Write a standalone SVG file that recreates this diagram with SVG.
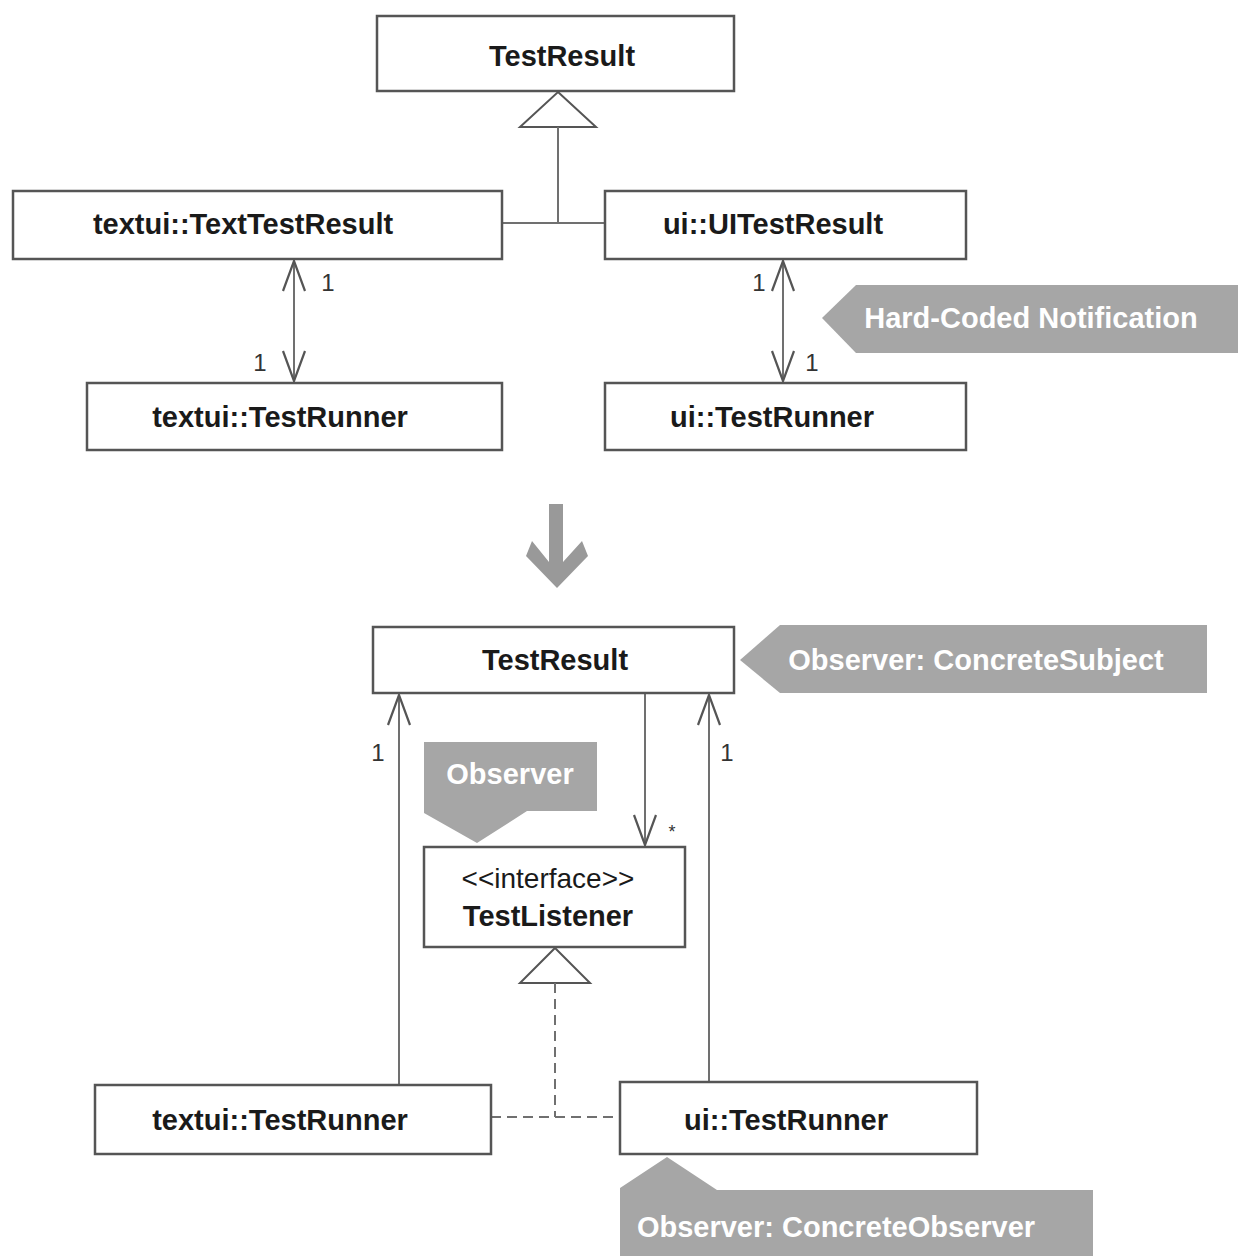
<svg xmlns="http://www.w3.org/2000/svg" width="1238" height="1256" viewBox="0 0 1238 1256">
  <defs>
    <style>
      .box { fill: #ffffff; stroke: #555555; stroke-width: 2.5; }
      .lbl { font-family: "Liberation Sans", Arial, sans-serif; font-size: 29px; font-weight: bold; fill: #1a1a1a; text-anchor: middle; }
      .stereo { font-family: "Liberation Sans", Arial, sans-serif; font-size: 28px; fill: #1a1a1a; text-anchor: middle; }
      .mult { font-family: "Liberation Sans", Arial, sans-serif; font-size: 24px; fill: #333333; text-anchor: middle; }
      .call { fill: #a6a6a6; stroke: none; }
      .calltxt { font-family: "Liberation Sans", Arial, sans-serif; font-size: 29px; font-weight: bold; fill: #ffffff; text-anchor: middle; }
      .line { fill: none; stroke: #707070; stroke-width: 2; }
      .dash { fill: none; stroke: #707070; stroke-width: 2; stroke-dasharray: 10 6; }
      .tri { fill: #ffffff; stroke: #555555; stroke-width: 2; stroke-linejoin: miter; }
    </style>
    <marker id="open" markerUnits="userSpaceOnUse" markerWidth="40" markerHeight="30" viewBox="-32 -15 36 30" refX="0" refY="0" orient="auto-start-reverse">
      <path d="M -30 -11 L 0 0 L -30 11" fill="none" stroke="#555555" stroke-width="2.2"/>
    </marker>
  </defs>

  <rect width="1238" height="1256" fill="#ffffff"/>

  <g id="connectors">
    <polygon class="tri" points="558,92 596,127 520,127"/>
    <line class="line" x1="558" y1="127" x2="558" y2="223"/>
    <line class="line" x1="502" y1="223" x2="605" y2="223"/>
    <line class="line" x1="294" y1="261" x2="294" y2="381" marker-start="url(#open)" marker-end="url(#open)"/>
    <line class="line" x1="783" y1="261" x2="783" y2="381" marker-start="url(#open)" marker-end="url(#open)"/>
    <line class="line" x1="399" y1="1085" x2="399" y2="695" marker-end="url(#open)"/>
    <line class="line" x1="709" y1="1082" x2="709" y2="695" marker-end="url(#open)"/>
    <line class="line" x1="645" y1="693" x2="645" y2="845" marker-end="url(#open)"/>
    <polygon class="tri" points="555,948 590,983 520,983"/>
    <line class="dash" x1="555" y1="983" x2="555" y2="1117"/>
    <line class="dash" x1="491" y1="1117" x2="620" y2="1117"/>
    <text class="mult" x="328" y="291">1</text>
    <text class="mult" x="260" y="371">1</text>
    <text class="mult" x="759" y="291">1</text>
    <text class="mult" x="812" y="371">1</text>
    <text class="mult" x="378" y="761">1</text>
    <text class="mult" x="727" y="761">1</text>
    <text class="mult" x="672" y="838" style="font-size:18px">*</text>
  </g>

  <g id="transform-arrow">
    <polygon fill="#999999" points="549,504 563,504 563,562 582,541 588,556 557,588 526,556 532,541 549,562"/>
  </g>

  <g id="node-testresult-top">
    <rect class="box" x="377" y="16" width="357" height="75"/>
    <text class="lbl" x="562" y="66">TestResult</text>
  </g>
  <g id="node-texttestresult">
    <rect class="box" x="13" y="191" width="489" height="68"/>
    <text class="lbl" x="243" y="234">textui::TextTestResult</text>
  </g>
  <g id="node-uitestresult">
    <rect class="box" x="605" y="191" width="361" height="68"/>
    <text class="lbl" x="773" y="234">ui::UITestResult</text>
  </g>
  <g id="node-textui-testrunner-top">
    <rect class="box" x="87" y="383" width="415" height="67"/>
    <text class="lbl" x="280" y="427">textui::TestRunner</text>
  </g>
  <g id="node-ui-testrunner-top">
    <rect class="box" x="605" y="383" width="361" height="67"/>
    <text class="lbl" x="772" y="427">ui::TestRunner</text>
  </g>

  <g id="callout-hardcoded">
    <polygon class="call" points="822,318 856,285 1238,285 1238,353 856,353"/>
    <text class="calltxt" x="1031" y="328">Hard-Coded Notification</text>
  </g>

  <g id="node-testresult-bottom">
    <rect class="box" x="373" y="627" width="361" height="66"/>
    <text class="lbl" x="555" y="670">TestResult</text>
  </g>
  <g id="callout-concretesubject">
    <polygon class="call" points="740,660 780,625 1207,625 1207,693 780,693"/>
    <text class="calltxt" x="976" y="670">Observer: ConcreteSubject</text>
  </g>
  <g id="callout-observer">
    <polygon class="call" points="424,742 597,742 597,811 527,811 477,843 424,813"/>
    <text class="calltxt" x="510" y="784">Observer</text>
  </g>
  <g id="node-testlistener">
    <rect class="box" x="424" y="847" width="261" height="100"/>
    <text class="stereo" x="548" y="888">&lt;&lt;interface&gt;&gt;</text>
    <text class="lbl" x="548" y="926">TestListener</text>
  </g>
  <g id="node-textui-testrunner-bottom">
    <rect class="box" x="95" y="1085" width="396" height="69"/>
    <text class="lbl" x="280" y="1130">textui::TestRunner</text>
  </g>
  <g id="node-ui-testrunner-bottom">
    <rect class="box" x="620" y="1082" width="357" height="72"/>
    <text class="lbl" x="786" y="1130">ui::TestRunner</text>
  </g>
  <g id="callout-concreteobserver">
    <polygon class="call" points="620,1188 667,1157 717,1190 1093,1190 1093,1256 620,1256"/>
    <text class="calltxt" x="836" y="1237">Observer: ConcreteObserver</text>
  </g>
</svg>
